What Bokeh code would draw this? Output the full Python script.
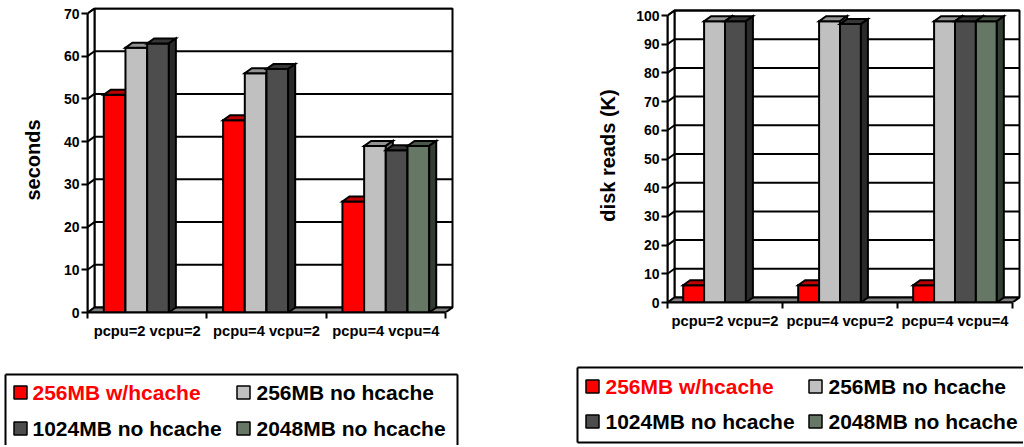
import math
from bokeh.plotting import figure
from bokeh.models import FixedTicker, Range1d
from bokeh.layouts import row, column
from bokeh.embed import file_html
from bokeh.resources import INLINE
from bokeh.core.properties import value

# ---------------- data ----------------
categories = ["pcpu=2 vcpu=2", "pcpu=4 vcpu=2", "pcpu=4 vcpu=4"]
series = ["256MB w/hcache", "256MB no hcache", "1024MB no hcache", "2048MB no hcache"]

seconds_256_hcache = [51, 45, 26]
seconds_256_nohcache = [62, 56, 39]
seconds_1024_nohcache = [63, 57, 38]
seconds_2048_nohcache = [None, None, 39]

reads_256_hcache = [6, 6, 6]
reads_256_nohcache = [98, 98, 98]
reads_1024_nohcache = [98, 97, 98]
reads_2048_nohcache = [None, None, 98]

seconds_ticks = [0, 10, 20, 30, 40, 50, 60, 70]
reads_ticks = [0, 10, 20, 30, 40, 50, 60, 70, 80, 90, 100]

# ---------------- style ----------------
FONT = "Liberation Sans"
front_colors = ["#FF0000", "#C0C0C0", "#4D4D4D", "#667766"]
top_colors = ["#C00000", "#939393", "#363636", "#4A564A"]
side_colors = ["#8A0000", "#6E6E6E", "#2A2A2A", "#343D34"]
label_colors = ["#FF0000", "#000000", "#000000", "#000000"]
FLOOR = "#808080"
LW = 2


def chart(vals, ticks, ylabel, bl, fw, br, bt, fh, bb, dxp, dyp, padx, pady, title_standoff):
    ncat = len(categories)
    ymax = ticks[-1]
    ppx = (fw - dxp - padx) / ncat
    ppy = (fh - dyp - pady) / ymax
    dx = dxp / ppx
    dy = dyp / ppy
    p = figure(width=bl + fw + br, height=bt + fh + bb,
               x_range=Range1d(0, ncat + (dxp + padx) / ppx),
               y_range=Range1d(0, ymax + (dyp + pady) / ppy),
               output_backend="svg", toolbar_location=None,
               min_border_left=bl, min_border_right=br,
               min_border_top=bt, min_border_bottom=bb)
    p.frame_align = False
    p.outline_line_color = None
    p.xgrid.visible = False
    p.ygrid.visible = False
    p.background_fill_color = "white"
    p.border_fill_color = "white"

    # walls and floor
    p.patch([dx, ncat + dx, ncat + dx, dx], [dy, dy, ymax + dy, ymax + dy],
            fill_color="white", line_color="black", line_width=LW)
    p.patch([0, dx, dx, 0], [0, dy, ymax + dy, ymax],
            fill_color="white", line_color="black", line_width=LW)
    gx = [[0, dx, ncat + dx] for t in ticks[1:]]
    gy = [[t, t + dy, t + dy] for t in ticks[1:]]
    p.multi_line(gx, gy, line_color="black", line_width=LW)
    p.patch([0, ncat, ncat + dx, dx], [0, 0, dy, dy],
            fill_color=FLOOR, line_color="black", line_width=LW)

    # 3D bars
    w = 1 / 5.5
    off = 0.75 * w
    xs, ys, fc = [], [], []
    for c in range(ncat):
        for s, sv in enumerate(vals):
            v = sv[c]
            if v is None:
                continue
            l = c + off + s * w
            r = l + w
            xs.append([l, r, r, l]); ys.append([0, 0, v, v]); fc.append(front_colors[s])
            xs.append([l, r, r + dx, l + dx]); ys.append([v, v, v + dy, v + dy]); fc.append(top_colors[s])
            xs.append([r, r + dx, r + dx, r]); ys.append([0, dy, v + dy, v]); fc.append(side_colors[s])
    p.patches(xs, ys, fill_color=fc, line_color="black", line_width=LW, line_join="miter")

    # y axis
    ya = p.yaxis[0]
    ya.ticker = FixedTicker(ticks=ticks)
    ya.bounds = (0, ymax)
    ya.axis_line_width = 2
    ya.axis_line_color = "black"
    ya.major_tick_out = 6
    ya.major_tick_in = 0
    ya.major_tick_line_width = 2
    ya.minor_tick_line_color = None
    ya.major_label_standoff = 2
    ya.major_label_text_font = FONT
    ya.major_label_text_font_style = "bold"
    ya.major_label_text_font_size = "14px"
    ya.major_label_text_color = "black"
    ya.axis_label = ylabel
    ya.axis_label_text_font = FONT
    ya.axis_label_text_font_style = "bold"
    ya.axis_label_text_font_size = "20px"
    ya.axis_label_text_color = "black"
    ya.axis_label_standoff = title_standoff

    # x axis
    xa = p.xaxis[0]
    centers = [c + 0.5 for c in range(ncat)]
    xa.ticker = FixedTicker(ticks=centers, minor_ticks=list(range(ncat + 1)))
    xa.major_label_overrides = {centers[i]: categories[i] for i in range(ncat)}
    xa.bounds = (0, ncat)
    xa.axis_line_width = 2
    xa.axis_line_color = "black"
    xa.major_tick_out = 0
    xa.major_tick_in = 0
    xa.minor_tick_out = 6
    xa.minor_tick_in = 0
    xa.minor_tick_line_width = 2
    xa.minor_tick_line_color = "black"
    xa.major_label_standoff = 4
    xa.major_label_text_font = FONT
    xa.major_label_text_font_style = "bold"
    xa.major_label_text_font_size = "14.7px"
    xa.major_label_text_color = "black"
    return p


def legend_fig(W, H, box_x, box_y, mx, tx, ry, left_edge=True, right_edge=True, bottom_edge=True):
    p = figure(width=W, height=H, x_range=Range1d(0, W), y_range=Range1d(0, H),
               x_axis_type=None, y_axis_type=None, output_backend="svg",
               toolbar_location=None, min_border=0)
    p.frame_align = False
    p.outline_line_color = None
    p.xgrid.visible = False
    p.ygrid.visible = False
    x0, x1 = box_x
    y0, y1 = box_y
    lx, ly = [[x0, x1]], [[y1, y1]]
    if left_edge:
        lx.append([x0, x0]); ly.append([y0, y1])
    if right_edge:
        lx.append([x1, x1]); ly.append([y0, y1])
    if bottom_edge:
        lx.append([x0, x1]); ly.append([y0, y0])
    p.multi_line(lx, ly, line_color="black", line_width=2)
    n = len(series)
    px = [mx[i % 2] for i in range(n)]
    py = [ry[i // 2] for i in range(n)]
    p.rect(x=px, y=py, width=13, height=13, width_units="screen", height_units="screen",
           fill_color=front_colors, line_color="black", line_width=1.5)
    p.text(x=[tx[i % 2] for i in range(n)], y=py, text=series, text_color=label_colors,
           text_font=value(FONT), text_font_style="bold", text_font_size="21px",
           text_baseline="middle", text_align="left")
    return p


left = chart([seconds_256_hcache, seconds_256_nohcache, seconds_1024_nohcache, seconds_2048_nohcache],
             seconds_ticks, "seconds", bl=87, fw=367, br=106, bt=7, fh=305, bb=40,
             dxp=7, dyp=5, padx=2, pady=1, title_standoff=17)
right = chart([reads_256_hcache, reads_256_nohcache, reads_1024_nohcache, reads_2048_nohcache],
              reads_ticks, "disk reads (K)", bl=107, fw=354, br=2, bt=8, fh=294, bb=40,
              dxp=7, dyp=5, padx=2, pady=2, title_standoff=14)

leg_left = legend_fig(560, 93, (5, 457), (-5, 71), mx=[20, 243], tx=[32, 256], ry=[53, 17],
                      bottom_edge=False)
leg_right = legend_fig(463, 104, (17, 480), (4, 79), mx=[32, 255], tx=[45, 268], ry=[60, 25],
                       right_edge=False)

layout = row(column(left, leg_left), column(right, leg_right))
open("out.html", "w").write(file_html(layout, INLINE))
